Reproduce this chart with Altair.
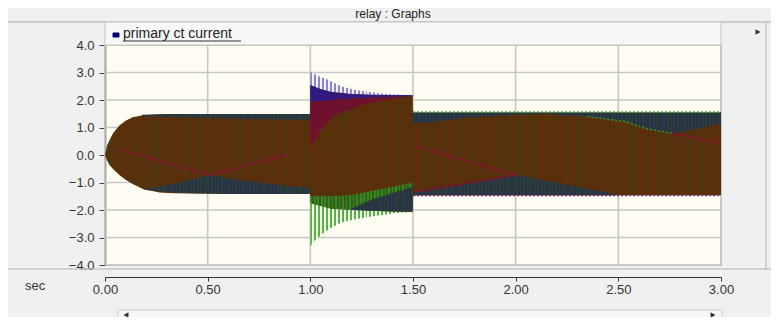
import altair as alt
import pandas as pd

FONT = "Liberation Sans"
W, H = 616, 220

# ---------------- axis ticks ----------------
x_ticks = [0.0, 0.5, 1.0, 1.5, 2.0, 2.5, 3.0]
y_ticks = [-4.0, -3.0, -2.0, -1.0, 0.0, 1.0, 2.0, 3.0, 4.0]

# ---------------- overall envelope of the three CT currents ----------------
env_t = [0.0, 0.01, 0.022, 0.04, 0.07, 0.1, 0.135, 0.185, 0.265, 0.33, 0.6, 0.999,
         1.0, 1.05, 1.1, 1.2, 1.3, 1.4, 1.499,
         1.5, 2.0, 2.5, 3.0]
env_hi = [0.0, 0.35, 0.55, 0.8, 1.07, 1.25, 1.37, 1.45, 1.48, 1.49, 1.49, 1.49,
          2.55, 2.4, 2.3, 2.22, 2.19, 2.18, 2.17,
          1.55, 1.55, 1.55, 1.55]
env_lo = [0.0, -0.2, -0.36, -0.52, -0.73, -0.9, -1.05, -1.24, -1.36, -1.39, -1.42, -1.42,
          -1.75, -1.85, -1.95, -2.0, -2.03, -2.05, -2.06,
          -1.46, -1.46, -1.46, -1.46]

# ---------------- fault period (1.0 s - 1.5 s) ----------------
spk_t = [1.0, 1.01, 1.03, 1.05, 1.07, 1.1, 1.15, 1.2, 1.25, 1.3, 1.35, 1.41, 1.499]
spk_top_base = [2.55, 2.5, 2.45, 2.4, 2.36, 2.3, 2.26, 2.22, 2.21, 2.19, 2.19, 2.18, 2.17]
spk_top_tip = [3.03, 2.99, 2.9, 2.84, 2.79, 2.68, 2.5, 2.4, 2.33, 2.28, 2.24, 2.2, 2.18]
spk_bot_base = [-1.75, -1.77, -1.81, -1.85, -1.89, -1.95, -1.98, -2.0, -2.01, -2.03, -2.04, -2.05, -2.06]
spk_bot_tip = [-3.33, -3.2, -3.05, -2.92, -2.8, -2.65, -2.45, -2.36, -2.3, -2.24, -2.18, -2.12, -2.07]

blue_t = [1.0, 1.05, 1.1, 1.2, 1.3, 1.4, 1.499]
blue_hi = [2.55, 2.4, 2.3, 2.22, 2.19, 2.18, 2.17]
blue_lo = [1.94, 1.96, 2.0, 2.05, 2.09, 2.12, 2.14]

maroon_t = [1.0, 1.004, 1.02, 1.053, 1.118, 1.248, 1.41, 1.499]
maroon_hi = [1.94, 1.94, 1.95, 1.96, 2.01, 2.06, 2.12, 2.14]
maroon_lo = [0.3, 0.3, 0.55, 0.95, 1.45, 1.82, 2.06, 2.13]

green_t = [1.0, 1.1, 1.2, 1.3, 1.4, 1.499]
green_lo = [-1.75, -1.95, -2.0, -2.03, -2.05, -2.06]
green_hi = [-1.5, -1.5, -1.45, -1.3, -1.15, -1.0]

gdark_t = [1.2, 1.3, 1.4, 1.499]
gdark_lo = [-2.0, -2.03, -2.05, -2.06]
gdark_hi = [-1.95, -1.62, -1.38, -1.15]

# ---------------- darker (overlapping phase) regions ----------------
pre_top_t = [0.18, 0.35, 0.6, 0.8, 0.999]
pre_top_hi = [1.46, 1.49, 1.49, 1.49, 1.49]
pre_top_lo = [1.42, 1.37, 1.33, 1.29, 1.27]

pre_bot_t = [0.184, 0.379, 0.509, 0.655, 0.85, 0.999]
pre_bot_lo = [-1.26, -1.38, -1.40, -1.42, -1.42, -1.42]
pre_bot_hi = [-1.26, -0.97, -0.73, -0.91, -1.09, -1.2]

post_top_t = [1.5, 1.6, 1.78, 2.0, 2.16, 2.21, 2.37, 2.54, 2.63, 2.76, 2.86, 3.0]
post_top_hi = [1.55, 1.55, 1.55, 1.55, 1.55, 1.55, 1.55, 1.55, 1.55, 1.55, 1.55, 1.55]
post_top_lo = [1.15, 1.2, 1.37, 1.46, 1.5, 1.45, 1.39, 1.21, 0.97, 0.79, 0.91, 1.15]

post_bot_t = [1.5, 1.52, 1.76, 2.0, 2.25, 2.49]
post_bot_lo = [-1.46, -1.46, -1.46, -1.46, -1.46, -1.46]
post_bot_hi = [-1.38, -1.33, -1.03, -0.73, -1.08, -1.44]

# ---------------- dotted beat lines ----------------
dot_t = [0.07, 0.51, 0.51, 0.88, 1.52, 2.0, 1.52, 2.0, 2.76, 3.0]
dot_v = [0.2, -0.73, -0.73, 0.0, 0.3, -0.73, -1.33, -0.73, 0.79, 0.43]
dot_id = ["a", "a", "b", "b", "c", "c", "d", "d", "f", "f"]

gdot_t = [2.35, 2.54, 2.63, 2.76]
gdot_v = [1.4, 1.21, 0.97, 0.79]

edge_t = [1.501, 3.0]
edge_top = [1.56, 1.56]
edge_bot = [-1.47, -1.47]

# ---------------- scales / axes ----------------
xscale = alt.Scale(domain=[0, 3], nice=False, zero=False)
yscale = alt.Scale(domain=[-4, 4], nice=False, zero=False)
xaxis = alt.Axis(values=x_ticks, format=".2f", title=None, grid=False, offset=12,
                 tickSize=4, labelPadding=2, domainColor="#333", tickColor="#333",
                 labelColor="#333", labelFont=FONT, labelFontSize=13, domainWidth=1.2,
                 labelFlush=False, labelOverlap=False)
yaxis = alt.Axis(values=y_ticks, format=".1f", title=None, grid=False,
                 tickSize=6, labelPadding=5, domainColor="#444", tickColor="#444",
                 labelColor="#333", labelFont=FONT, labelFontSize=13, domainWidth=1.5,
                 labelFlush=False, labelOverlap=False)


def X(f):
    return alt.X(f, type="quantitative", scale=xscale, axis=xaxis)


def Y(f):
    return alt.Y(f, type="quantitative", scale=yscale, axis=yaxis)


def stripes(c1, c2, t0, t1, period=3.5, duty=0.5):
    n = max(1, round((t1 - t0) / 3.0 * W / period))
    stops = []
    for i in range(n):
        a, b, c = i / n, (i + duty) / n, (i + 1) / n
        stops += [alt.GradientStop(color=c1, offset=a), alt.GradientStop(color=c1, offset=b),
                  alt.GradientStop(color=c2, offset=b), alt.GradientStop(color=c2, offset=min(c, 1))]
    return alt.LinearGradient(gradient="linear", stops=stops, x1=0, x2=1, y1=0, y2=0)


def band(t, lo, hi, c1, c2, period=3.5, duty=0.5, opacity=1.0):
    df = pd.DataFrame({"t": t, "lo": lo, "hi": hi})
    return alt.Chart(df).mark_area(
        color=stripes(c1, c2, min(t), max(t), period, duty), opacity=opacity,
        interpolate="linear", strokeWidth=0
    ).encode(x=X("t"), y=Y("hi"), y2="lo")


one = alt.Data(values=[{}])

# gridlines
gx = alt.Chart(pd.DataFrame({"v": x_ticks})).mark_rule(color="#c6c6c6", strokeWidth=1.6).encode(x=X("v"))
gy = alt.Chart(pd.DataFrame({"v": y_ticks})).mark_rule(color="#c6c6c6", strokeWidth=1.6).encode(y=Y("v"))

DK1, DK2 = "#283050", "#2b3f32"
layers = [gx, gy]
layers.append(band(env_t, env_lo, env_hi, "#662807", "#483a10"))
layers.append(band(pre_top_t, pre_top_lo, pre_top_hi, DK1, DK2))
layers.append(band(pre_bot_t, pre_bot_lo, pre_bot_hi, DK1, DK2))
layers.append(band(post_top_t, post_top_lo, post_top_hi, DK1, DK2))
layers.append(band(post_bot_t, post_bot_lo, post_bot_hi, DK1, DK2))
# fault
layers.append(band(spk_t, spk_top_base, spk_top_tip, "#8a84d0", "#f6f3f0", period=4.0, duty=0.5))
layers.append(band(spk_t, spk_bot_tip, spk_bot_base, "#52b242", "#f6f8ec", period=4.0, duty=0.5))
layers.append(band(blue_t, blue_lo, blue_hi, "#2c1c8c", "#3a1670"))
layers.append(band(maroon_t, maroon_lo, maroon_hi, "#7c0c2c", "#611530"))
layers.append(band(green_t, green_lo, green_hi, "#2f8a22", "#3b5a18"))
layers.append(band(gdark_t, gdark_lo, gdark_hi, DK1, DK2))

# dotted lines
layers.append(alt.Chart(pd.DataFrame({"t": dot_t, "v": dot_v, "id": dot_id})).mark_line(
    color="#8c0c3c", strokeWidth=2, strokeDash=[3, 2]).encode(x=X("t"), y=Y("v"), detail="id:N"))
layers.append(alt.Chart(pd.DataFrame({"t": gdot_t, "v": gdot_v})).mark_line(
    color="#3a9a2a", strokeWidth=1.5, strokeDash=[2, 2]).encode(x=X("t"), y=Y("v")))
layers.append(alt.Chart(pd.DataFrame({"t": edge_t, "v": edge_top})).mark_line(
    color="#44a832", strokeWidth=1.5, strokeDash=[2, 2]).encode(x=X("t"), y=Y("v")))
layers.append(alt.Chart(pd.DataFrame({"t": edge_t, "v": edge_bot})).mark_line(
    color="#7a1a6a", strokeWidth=1.5, strokeDash=[2, 2]).encode(x=X("t"), y=Y("v")))

# ---------------- window decorations (pixel positions relative to plot) ----------------
def rule(x1, x2, y1, y2, color="#b4b4b4", w=1):
    return alt.Chart(one).mark_rule(color=color, strokeWidth=w).encode(
        x=alt.value(x1), x2=alt.value(x2), y=alt.value(y1), y2=alt.value(y2))


def rect(x1, x2, y1, y2, fill, stroke="#c4c4c4"):
    return alt.Chart(one).mark_rect(fill=fill, stroke=stroke, strokeWidth=1).encode(
        x=alt.value(x1), x2=alt.value(x2), y=alt.value(y1), y2=alt.value(y2))


def text(x, y, s, size=13, align="left", color="#222"):
    return alt.Chart(one).mark_text(text=s, font=FONT, fontSize=size, align=align,
                                    baseline="middle", color=color).encode(
        x=alt.value(x), y=alt.value(y))


def arrow(x, y, shape):
    return alt.Chart(one).mark_point(shape=shape, filled=True, color="#333", size=32,
                                     opacity=1).encode(x=alt.value(x), y=alt.value(y))


deco = [
    rule(-97, 666, -23, -23, "#a8a8a8"),
    rect(0, 616, -23, 0, "#f7f7f7"),
    text(288, -31, "relay : Graphs", 12, "center"),
    rect(8, 14, -12, -8, "#00007a", "#00007a"),
    text(18, -11, "primary ct current", 14, "left"),
    rule(18, 136, -4, -4, "#333", 1),
    rule(-97, 666, 224, 224, "#b0b0b0"),
    text(-80, 241, "sec", 13, "left", "#333"),
    rect(13, 617, 265, 284, "#f7f7f7", "#c8c8c8"),
    arrow(21, 270, "triangle-left"),
    arrow(608, 270, "triangle-right"),
    rule(661, 661, -23, 225, "#b8b8b8"),
    arrow(653, -13, "triangle-right"),
]

chart = alt.layer(*layers, *deco).properties(
    width=W, height=H,
    padding={"left": 97, "top": 37, "right": 50, "bottom": 52},
    autosize=alt.AutoSizeParams(type="none"),
    background="#f0f0f0",
).configure_view(fill="#fffdf2", stroke="#bcbcbc", strokeWidth=1.2)

chart.save("out.html", embed_options={"renderer": "svg", "actions": False})
